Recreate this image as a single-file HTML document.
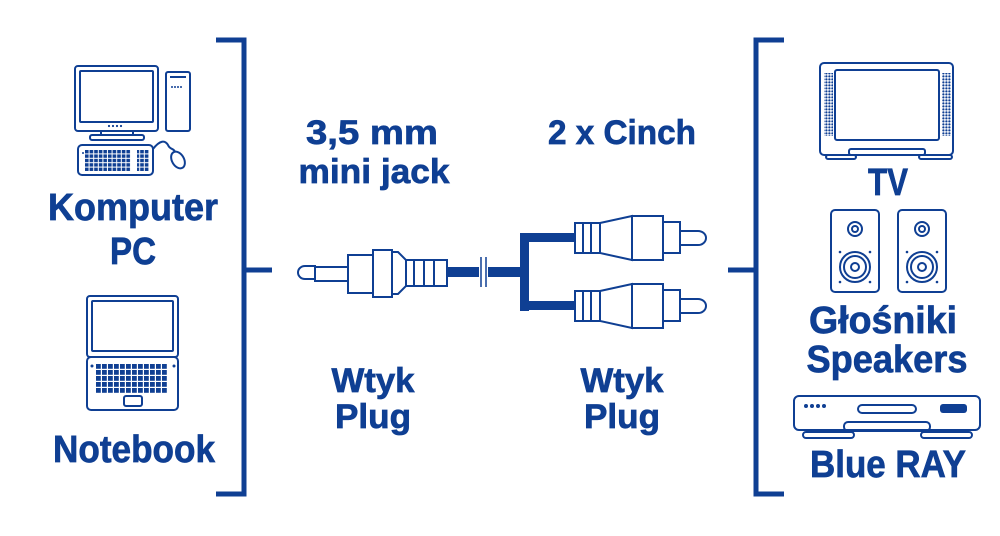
<!DOCTYPE html>
<html><head><meta charset="utf-8"><style>
html,body{margin:0;padding:0;background:#fff;}
svg{display:block}
text{font-family:"Liberation Sans",sans-serif;font-weight:bold;fill:#0f3f93;stroke:#0f3f93;stroke-width:0.7;text-anchor:middle}
</style></head><body>
<svg width="1000" height="536" viewBox="0 0 1000 536" xmlns="http://www.w3.org/2000/svg">
<defs>
<pattern id="kp" x="85" y="150" width="4.6" height="4.4" patternUnits="userSpaceOnUse"><rect width="3.6" height="3.4" fill="#0f3f93"/></pattern>
<pattern id="lp" x="96" y="364" width="6" height="6" patternUnits="userSpaceOnUse"><rect width="4.8" height="4.8" fill="#0f3f93"/></pattern>
<pattern id="dp" x="0" y="0" width="3" height="3" patternUnits="userSpaceOnUse"><circle cx="1.4" cy="1.4" r="1.15" fill="#0f3f93"/></pattern>
</defs>
<g fill="none" stroke="#0f3f93">
<path d="M216 40H244V494H216M244 270H272" stroke-width="5"/>
<path d="M784 40H756V494H784M756 270H728" stroke-width="5"/>

<g stroke-width="2">
<rect x="75" y="66" width="83" height="65" rx="3"/>
<rect x="80" y="71" width="73" height="51" rx="1"/>
<rect x="101" y="131" width="32" height="4"/>
<rect x="90" y="135" width="54" height="5" rx="2"/>
<rect x="166" y="72" width="24" height="59" rx="2"/>
<rect x="78" y="145" width="75" height="30" rx="4"/>
<path d="M153 149 C160 140 165 140 168 145 C170 150 174 148 175 152"/>
<ellipse cx="178" cy="160" rx="6" ry="9" transform="rotate(-30 178 160)"/>
</g>
<rect x="170" y="76" width="16" height="2" fill="#0f3f93" stroke="none"/>
<g fill="#0f3f93" stroke="none">
<circle cx="172" cy="87" r="1"/><circle cx="175" cy="87" r="1"/><circle cx="178" cy="87" r="1"/><circle cx="181" cy="87" r="1"/>
<circle cx="109" cy="126" r="1.1"/><circle cx="113" cy="126" r="1.1"/><circle cx="117" cy="126" r="1.1"/><circle cx="121" cy="126" r="1.1"/>
<rect x="85" y="150" width="46" height="21" fill="url(#kp)"/>
<rect x="137" y="150" width="12" height="21" fill="url(#kp)"/>
<circle cx="83" cy="153" r="1"/>
</g>

<g stroke-width="2">
<rect x="87" y="296" width="91" height="61" rx="3"/>
<rect x="92" y="301" width="81" height="50" rx="1"/>
<rect x="87" y="357" width="91" height="53" rx="4"/>
<rect x="124" y="396" width="18" height="10" rx="2"/>
</g>
<g fill="#0f3f93" stroke="none">
<rect x="96" y="364" width="72" height="29" fill="url(#lp)"/>
<circle cx="92" cy="366" r="1.5"/><circle cx="174" cy="366" r="1.5"/>
</g>

<g stroke-width="2">
<rect x="820" y="63" width="133" height="92" rx="4"/>
<rect x="835" y="70" width="104" height="70" rx="2"/>
<rect x="849" y="149" width="76" height="6" rx="2"/>
<rect x="826" y="155" width="30" height="4" rx="2"/>
<rect x="919" y="155" width="33" height="4" rx="2"/>
</g>
<rect x="824" y="73" width="9" height="63" fill="url(#dp)" stroke="none"/>
<rect x="942" y="73" width="9" height="63" fill="url(#dp)" stroke="none"/>

<g stroke-width="2">
<rect x="831" y="210" width="48" height="82" rx="4"/>
<circle cx="855" cy="229" r="7"/><circle cx="855" cy="229" r="3"/>
<circle cx="855" cy="267" r="15"/><circle cx="855" cy="267" r="11"/><circle cx="855" cy="267" r="4"/>
<rect x="898" y="210" width="48" height="82" rx="4"/>
<circle cx="922" cy="229" r="7"/><circle cx="922" cy="229" r="3"/>
<circle cx="922" cy="267" r="15"/><circle cx="922" cy="267" r="11"/><circle cx="922" cy="267" r="4"/>
</g>
<g fill="#0f3f93" stroke="none">
<circle cx="840" cy="252" r="1.3"/><circle cx="870" cy="252" r="1.3"/><circle cx="840" cy="282" r="1.3"/><circle cx="870" cy="282" r="1.3"/>
<circle cx="907" cy="252" r="1.3"/><circle cx="937" cy="252" r="1.3"/><circle cx="907" cy="282" r="1.3"/><circle cx="937" cy="282" r="1.3"/>
</g>

<g stroke-width="2">
<rect x="794" y="396" width="186" height="34" rx="5"/>
<rect x="858" y="405" width="58" height="8" rx="4"/>
<rect x="844" y="422" width="86" height="9" rx="4"/>
<rect x="803" y="432" width="51" height="6" rx="3"/>
<rect x="921" y="432" width="51" height="6" rx="3"/>
</g>
<g fill="#0f3f93" stroke="none">
<rect x="940" y="404" width="27" height="9" rx="3"/>
<circle cx="806" cy="406" r="2"/><circle cx="812" cy="406" r="2"/><circle cx="818" cy="406" r="2"/><circle cx="824" cy="406" r="2"/>
</g>

<g stroke-width="2" fill="#fff">
<path d="M315 266 H305 A7 6.5 0 0 0 305 279 H315 Z"/>
<rect x="315" y="267" width="33" height="14"/>
<rect x="348" y="255" width="25" height="38"/>
<rect x="373" y="250" width="19" height="47"/>
<path d="M392 252 L398 252 L406 260 V286 L398 294 H392 Z"/>
<rect x="406" y="260" width="41" height="26"/>
<path d="M414 260V286M424 260V286M434 260V286"/>
</g>
<g fill="#0f3f93" stroke="none">
<rect x="447" y="267" width="78" height="10"/>
<rect x="520" y="233" width="9" height="78"/>
<rect x="520" y="233" width="56" height="9"/>
<rect x="520" y="301" width="56" height="9"/>
</g>
<rect x="479" y="255" width="9" height="34" fill="#fff" stroke="none"/>
<path d="M481 257V287M486 257V287" stroke-width="1.5"/>

<g stroke-width="2" fill="#fff">
<path d="M680 231 H698 A8 7 0 0 1 698 245 H680 Z"/>
<rect x="663" y="222" width="17" height="31"/>
<rect x="632" y="216" width="31" height="44"/>
<path d="M600 223 L632 216 V260 L600 253 Z"/>
<rect x="575" y="223" width="25" height="30"/>
<path d="M583 223V253M591 223V253"/>
</g>
<g stroke-width="2" fill="#fff" transform="translate(0,68)">
<path d="M680 231 H698 A8 7 0 0 1 698 245 H680 Z"/>
<rect x="663" y="222" width="17" height="31"/>
<rect x="632" y="216" width="31" height="44"/>
<path d="M600 223 L632 216 V260 L600 253 Z"/>
<rect x="575" y="223" width="25" height="30"/>
<path d="M583 223V253M591 223V253"/>
</g>
</g>

<g font-size="38">
<text x="133" y="220" textLength="170" lengthAdjust="spacingAndGlyphs">Komputer</text>
<text x="133" y="264" textLength="46" lengthAdjust="spacingAndGlyphs">PC</text>
<text x="134" y="462" textLength="162" lengthAdjust="spacingAndGlyphs">Notebook</text>
<text x="888" y="195" textLength="40" lengthAdjust="spacingAndGlyphs">TV</text>
<text x="883" y="333" textLength="148" lengthAdjust="spacingAndGlyphs">Głośniki</text>
<text x="887" y="372" textLength="161" lengthAdjust="spacingAndGlyphs">Speakers</text>
<text x="888" y="477" textLength="156" lengthAdjust="spacingAndGlyphs">Blue RAY</text>
</g>
<g font-size="34">
<text x="372" y="144" textLength="132" lengthAdjust="spacingAndGlyphs">3,5 mm</text>
<text x="374" y="183" textLength="151" lengthAdjust="spacingAndGlyphs">mini jack</text>
<text x="622" y="144" textLength="148" lengthAdjust="spacingAndGlyphs">2 x Cinch</text>
<text x="373" y="392" textLength="83" lengthAdjust="spacingAndGlyphs">Wtyk</text>
<text x="373" y="428" textLength="76" lengthAdjust="spacingAndGlyphs">Plug</text>
<text x="622" y="392" textLength="83" lengthAdjust="spacingAndGlyphs">Wtyk</text>
<text x="622" y="428" textLength="76" lengthAdjust="spacingAndGlyphs">Plug</text>
</g>
</svg>
</body></html>
